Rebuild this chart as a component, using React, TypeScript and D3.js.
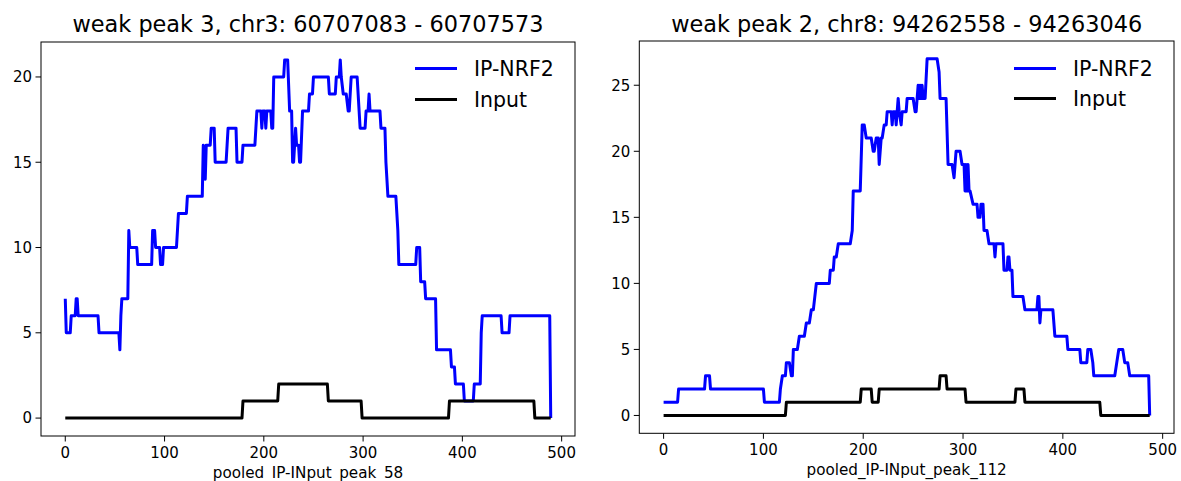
import React from "react";
import * as d3 from "d3";

// ---------- data (position, read count) ----------
const peak3Ip: [number, number][] = [
  [0, 7], [1, 5], [5, 5], [6, 6], [10, 6], [11, 7], [12, 7], [13, 6], [33, 6], [34, 5], [54, 5], [55, 4], [56, 6], [57, 7], [63, 7],
  [64, 11], [65, 10], [72, 10], [73, 9], [87, 9], [88, 11], [90, 11], [91, 10], [95, 10], [96, 9], [98, 9], [99, 10], [112, 10],
  [113, 11], [114, 12], [122, 12], [123, 13], [138, 13], [139, 16], [140, 15], [141, 14], [142, 16], [146, 16], [147, 17], [150, 17],
  [151, 15], [162, 15], [163, 16], [164, 17], [172, 17], [173, 15], [178, 15], [179, 16], [191, 16], [192, 17], [193, 18], [197, 18],
  [198, 17], [199, 18], [201, 18], [202, 17], [203, 18], [207, 18], [208, 17], [209, 17], [210, 20], [220, 20], [221, 21], [224, 21],
  [226, 18], [228, 18], [229, 15], [230, 15], [232, 17], [233, 16], [235, 16], [236, 15], [237, 15], [239, 18], [245, 18], [246, 19],
  [249, 19], [250, 20], [265, 20], [266, 19], [272, 19], [273, 20], [276, 20], [277, 21], [278, 20], [280, 19], [283, 19], [285, 18],
  [286, 18], [288, 20], [294, 20], [297, 17], [302, 17], [303, 18], [305, 18], [306, 19], [307, 18], [317, 18], [318, 17], [322, 17],
  [323, 15], [325, 13], [333, 13], [334, 12], [335, 11], [336, 9], [353, 9], [354, 10], [357, 10], [358, 8], [362, 8], [363, 7],
  [373, 7], [374, 4], [388, 4], [389, 3], [392, 3], [393, 2], [401, 2], [402, 1], [411, 1], [412, 2], [418, 2], [419, 5], [420, 6],
  [439, 6], [440, 5], [447, 5], [448, 6], [488, 6], [489, 0],
];
const peak3Input: [number, number][] = [
  [0, 0], [178, 0], [179, 1], [214, 1], [215, 2], [264, 2], [265, 1], [298, 1], [299, 0], [386, 0], [387, 1], [472, 1], [473, 0], [489, 0],
];
const peak2Ip: [number, number][] = [
  [0, 1], [14, 1], [15, 2], [41, 2], [42, 3], [46, 3], [47, 2], [100, 2], [101, 1], [116, 1], [117, 2], [119, 3], [122, 3], [123, 4],
  [126, 4], [128, 3], [129, 3], [130, 5], [134, 5], [136, 6], [141, 6], [143, 7], [146, 7], [148, 8], [150, 8], [153, 10], [166, 10],
  [167, 11], [170, 11], [171, 12], [173, 12], [175, 13], [187, 13], [189, 14], [190, 17], [197, 17], [199, 22], [201, 22], [203, 21],
  [208, 21], [210, 20], [211, 20], [213, 21], [215, 21], [216, 19], [218, 21], [219, 21], [221, 22], [223, 22], [224, 23], [228, 23],
  [229, 22], [230, 23], [232, 23], [233, 22], [234, 23], [235, 24], [236, 23], [238, 22], [239, 23], [243, 23], [244, 24], [250, 24],
  [252, 23], [253, 23], [255, 25], [256, 24], [257, 25], [258, 24], [259, 25], [260, 24], [262, 24], [264, 27], [274, 27], [276, 26],
  [277, 24], [283, 24], [285, 19], [289, 19], [291, 18], [293, 20], [297, 20], [299, 19], [301, 19], [302, 17], [303, 19], [304, 17],
  [305, 19], [306, 17], [307, 17], [310, 16], [314, 16], [315, 15], [317, 15], [318, 16], [320, 16], [321, 14], [324, 14], [326, 13],
  [331, 13], [332, 12], [333, 13], [340, 13], [341, 11], [344, 11], [345, 12], [346, 12], [347, 11], [349, 11], [350, 9], [360, 9],
  [362, 8], [374, 8], [375, 9], [376, 9], [377, 7], [378, 8], [390, 8], [392, 6], [404, 6], [405, 5], [417, 5], [418, 4], [424, 4],
  [425, 5], [428, 5], [430, 4], [431, 3], [452, 3], [454, 4], [456, 5], [460, 5], [462, 4], [465, 4], [467, 3], [486, 3], [487, 0],
];
const peak2Input: [number, number][] = [
  [0, 0], [122, 0], [123, 1], [197, 1], [198, 2], [208, 2], [209, 1], [215, 1], [216, 2], [276, 2], [277, 3], [283, 3], [284, 2],
  [302, 2], [303, 1], [352, 1], [353, 2], [361, 2], [362, 1], [437, 1], [438, 0], [487, 0],
];

const xTicks = [0, 100, 200, 300, 400, 500];
const peak3YTicks = [0, 5, 10, 15, 20];
const peak2YTicks = [0, 5, 10, 15, 20, 25];
const seriesNames = ["IP-NRF2", "Input"];

const FONT = "DejaVu Sans, sans-serif";

type PanelProps = {
  title: string;
  xlabel: string;
  ip: [number, number][];
  input: [number, number][];
  yTicks: number[];
  left: number;
  right: number;
  top: number;
  bottom: number;
  legGap: number;
};

function Panel({ title, xlabel, ip, input, yTicks, left, right, top, bottom, legGap }: PanelProps) {
  const allX = ip.map((d) => d[0]).concat(input.map((d) => d[0]));
  const allY = ip.map((d) => d[1]).concat(input.map((d) => d[1]));
  const [x0, x1] = d3.extent(allX) as [number, number];
  const [y0, y1] = d3.extent(allY) as [number, number];
  const xm = (x1 - x0) * 0.05;
  const ym = (y1 - y0) * 0.05;
  const x = d3.scaleLinear().domain([x0 - xm, x1 + xm]).range([left, right]);
  const y = d3.scaleLinear().domain([y0 - ym, y1 + ym]).range([bottom, top]);
  const line = d3
    .line<[number, number]>()
    .x((d) => x(d[0]))
    .y((d) => y(d[1]));
  const cx = (left + right) / 2;
  const legX = right - 160;
  return (
    <g>
      <text x={cx} y={32} textAnchor="middle" fontSize={22.4} fontFamily={FONT} fill="#000">
        {title}
      </text>
      <path d={line(ip) || ""} fill="none" stroke="#0000ff" strokeWidth={3} strokeLinejoin="round" />
      <path d={line(input) || ""} fill="none" stroke="#000" strokeWidth={3} strokeLinejoin="round" />
      <rect x={left} y={top} width={right - left} height={bottom - top} fill="none" stroke="#000" strokeWidth={1} />
      {xTicks.map((t) => (
        <g key={"x" + t}>
          <line x1={x(t)} x2={x(t)} y1={bottom} y2={bottom + 5.5} stroke="#000" strokeWidth={1} />
          <text x={x(t)} y={bottom + 22} textAnchor="middle" fontSize={15} fontFamily={FONT} fill="#000">
            {t}
          </text>
        </g>
      ))}
      {yTicks.map((t) => (
        <g key={"y" + t}>
          <line x1={left - 5.5} x2={left} y1={y(t)} y2={y(t)} stroke="#000" strokeWidth={1} />
          <text x={left - 9} y={y(t)} dy="0.36em" textAnchor="end" fontSize={15} fontFamily={FONT} fill="#000">
            {t}
          </text>
        </g>
      ))}
      <text x={cx} y={bottom + 42} textAnchor="middle" fontSize={15.2} fontFamily={FONT} fill="#000">
        {xlabel}
      </text>
      {seriesNames.map((name, i) => (
        <g key={name}>
          <line
            x1={legX}
            x2={legX + 42}
            y1={68.5 + i * legGap}
            y2={68.5 + i * legGap}
            stroke={i === 0 ? "#0000ff" : "#000"}
            strokeWidth={3}
          />
          <text x={legX + 59} y={68.5 + i * legGap} dy="0.36em" fontSize={20.5} fontFamily={FONT} fill="#000">
            {name}
          </text>
        </g>
      ))}
    </g>
  );
}

export default function App() {
  return (
    <svg
      width={1181}
      height={481}
      style={{ position: "absolute", left: 0, top: 0, background: "#fff" }}
    >
      <rect width={1181} height={481} fill="#fff" />
      <Panel
        title="weak peak 3, chr3: 60707083 - 60707573"
        xlabel="pooled_IP-INput_peak_58"
        ip={peak3Ip}
        input={peak3Input}
        yTicks={peak3YTicks}
        left={41}
        right={575}
        top={42}
        bottom={436}
        legGap={31}
      />
      <Panel
        title="weak peak 2, chr8: 94262558 - 94263046"
        xlabel="pooled_IP-INput_peak_112"
        ip={peak2Ip}
        input={peak2Input}
        yTicks={peak2YTicks}
        left={639.3}
        right={1174}
        top={41}
        bottom={433.3}
        legGap={30}
      />
    </svg>
  );
}
